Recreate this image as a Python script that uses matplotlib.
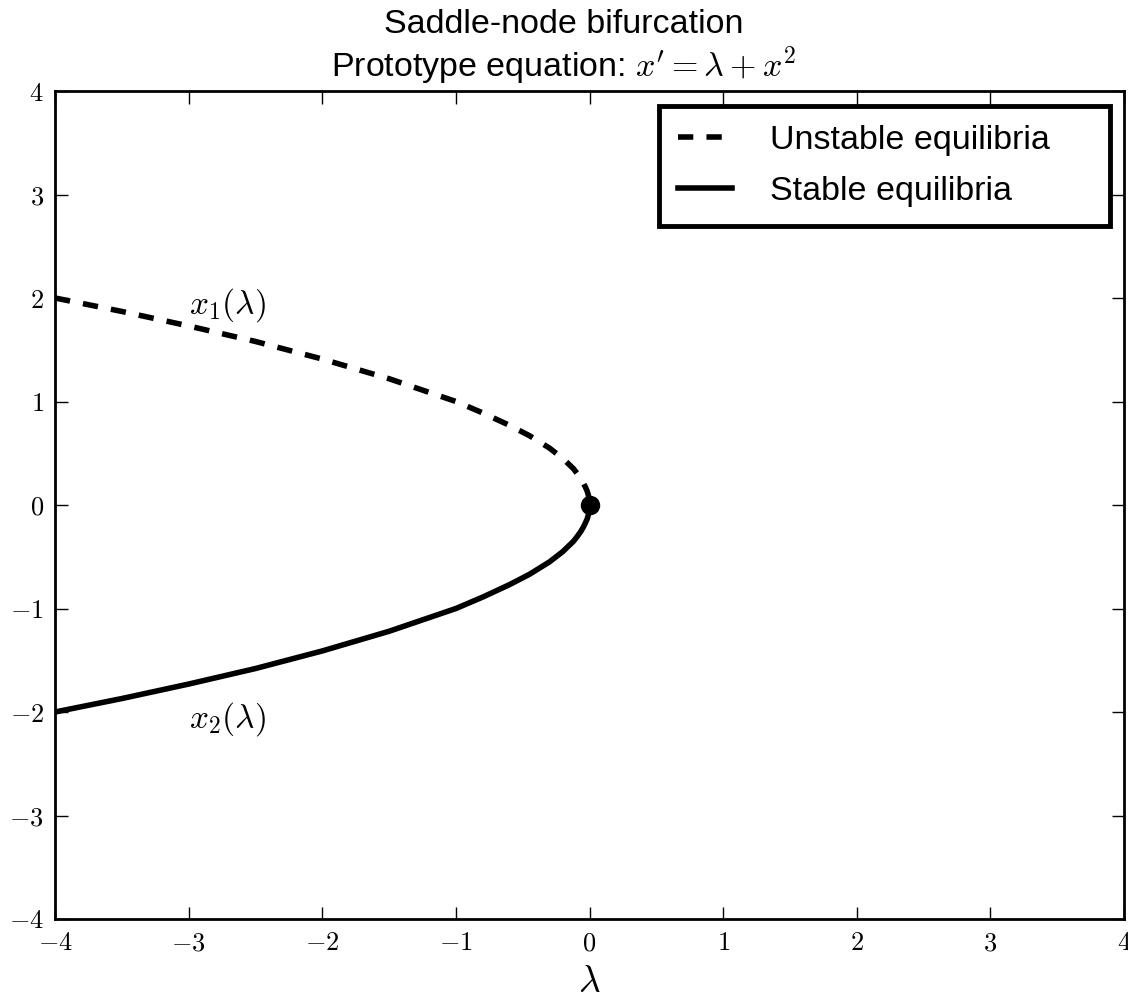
import matplotlib
matplotlib.use("Agg")
import matplotlib.pyplot as plt
from matplotlib.ticker import FuncFormatter

plt.rcParams['font.family'] = ['Liberation Sans', 'DejaVu Sans']
plt.rcParams['mathtext.fontset'] = 'cm'
plt.rcParams['lines.scale_dashes'] = False

# valores: parametro lambda e os dois ramos de equilibrio
lam = [-4.0, -3.5, -3.0, -2.5, -2.0, -1.5, -1.0, -0.8, -0.6, -0.45, -0.35, -0.3,
       -0.25, -0.2, -0.16, -0.12, -0.09, -0.065, -0.045, -0.03, -0.018, -0.009,
       -0.004, -0.001, 0.0]
x_instavel = [2.0, 1.87, 1.73, 1.58, 1.41, 1.22, 1.0, 0.89, 0.77, 0.67, 0.59, 0.55,
              0.5, 0.45, 0.4, 0.35, 0.3, 0.255, 0.21, 0.17, 0.135, 0.095,
              0.063, 0.032, 0.0]
x_estavel = [-2.0, -1.87, -1.73, -1.58, -1.41, -1.22, -1.0, -0.89, -0.77, -0.67, -0.59, -0.55,
             -0.5, -0.45, -0.4, -0.35, -0.3, -0.255, -0.21, -0.17, -0.135, -0.095,
             -0.063, -0.032, 0.0]
ponto_sela = (0.0, 0.0)
ticks = [-4, -3, -2, -1, 0, 1, 2, 3, 4]

fig = plt.figure(figsize=(11.28, 10), dpi=100)
ax = fig.add_axes([0.0488, 0.081, 0.9477, 0.828])

ax.plot(lam, x_instavel, color='black', linewidth=4, linestyle='--',
        dashes=(11, 9.5), label='Unstable equilibria')
ax.plot(lam, x_estavel, color='black', linewidth=4, label='Stable equilibria')
ax.plot([ponto_sela[0]], [ponto_sela[1]], 'o', color='black', markersize=13)

ax.text(-3.0, 1.93, r'$x_1(\lambda)$', fontsize=24, va='center', ha='left')
ax.text(-3.0, -2.07, r'$x_2(\lambda)$', fontsize=24, va='center', ha='left')

ax.set_xlim(-4, 4)
ax.set_ylim(-4, 4)
ax.set_xticks(ticks)
ax.set_yticks(ticks)
fmt = FuncFormatter(lambda v, pos: r'$%d$' % v)
ax.xaxis.set_major_formatter(fmt)
ax.yaxis.set_major_formatter(fmt)
ax.tick_params(direction='in', length=9, width=1, labelsize=19,
               top=True, right=True)
ax.tick_params(axis='x', pad=9)
ax.tick_params(axis='y', pad=8)
for s in ax.spines.values():
    s.set_linewidth(2)

ax.set_xlabel(r'$\lambda$', fontsize=27, labelpad=6)
# titulo centrado na figura, nao nos eixos
fig.suptitle("Saddle-node bifurcation\nPrototype equation: $x' = \\lambda + x^2$",
             fontsize=24.5, x=0.5, y=0.991, va='top', linespacing=1.15)

leg = ax.legend(loc='upper right', bbox_to_anchor=(0.565, 0.5, 0.422, 0.482),
                mode='expand', borderaxespad=0, fontsize=24.5, handlelength=1.6,
                handletextpad=1.1, borderpad=0.55, labelspacing=0.6,
                fancybox=False, framealpha=1)
leg.get_frame().set_edgecolor('black')
leg.get_frame().set_linewidth(3.5)

fig.savefig('out.png', dpi=100)
